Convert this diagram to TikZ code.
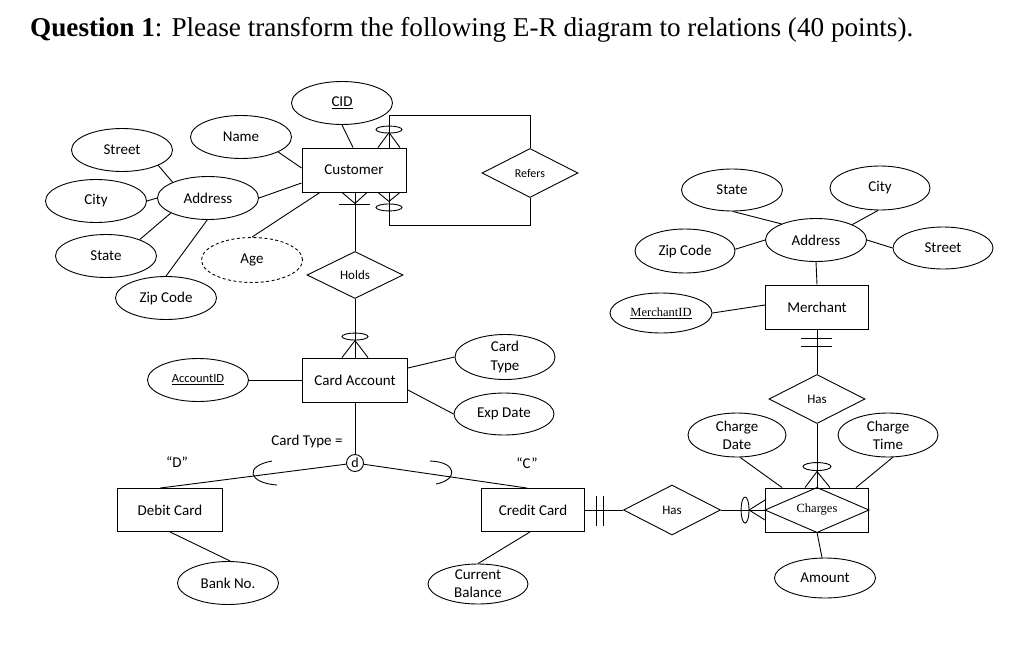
\documentclass[tikz,border=0pt]{standalone}
\usepackage{fontspec}
\setmainfont{Carlito}
\newfontfamily\tnr{Liberation Serif}
\usetikzlibrary{shapes.geometric,calc}
\tikzset{
 conn/.style={line width=0.9pt},
 attr/.style={ellipse, draw, line width=0.9pt, inner sep=0pt, minimum width=101pt, minimum height=43pt, font=\fontsize{15}{18}\selectfont, align=center},
 ent/.style={rectangle, draw, line width=0.9pt, inner sep=0pt, minimum width=104pt, minimum height=44pt, font=\fontsize{15}{18}\selectfont},
 rel/.style={diamond, draw, line width=0.9pt, inner sep=0pt, minimum width=96pt, minimum height=49pt, font=\fontsize{13}{15}\selectfont},
 lbl/.style={inner sep=0pt, font=\fontsize{15}{18}\selectfont},
 zero/.style={line width=0.9pt},
}
\begin{document}
\begin{tikzpicture}[x=1pt,y=-1pt]
\fill[white] (0,0) rectangle (1024,661);
\useasboundingbox (0,0) rectangle (1024,661);

\node[anchor=base west, inner sep=0pt, font=\tnr\fontsize{27.2}{31}\selectfont] (title) at (30,37) {\textbf{Question 1}: Please transform the following E-R diagram to relations (40 points).};

% left: customer side
\node[attr] (cid) at (342,103) {\underline{CID}};
\node[ent] (cust) at (354,170) {Customer};
\node[rel, font=\fontsize{12}{14}\selectfont] (refers) at (530,173) {Refers};
\node[attr] (name) at (241,137) {Name};
\node[attr] (lstreet) at (122,150) {Street};
\node[attr] (lcity) at (96,201) {City};
\node[attr] (laddr) at (208,198) {Address};
\node[attr] (lstate) at (106,256) {State};
\node[attr] (lzip) at (166,298) {Zip Code};
\node[attr, dash pattern=on 3pt off 2.5pt, minimum height=45pt] (age) at (252,260) {Age};
\node[rel, minimum height=47pt] (holds) at (355,275) {Holds};
\node[ent, minimum width=105pt] (card) at (355,380) {Card Account};
\node[attr, minimum width=100pt, font=\fontsize{15}{19}\selectfont] (ctype) at (505,357) {Card\\Type};
\node[attr, minimum width=100pt, minimum height=42pt] (exp) at (504,414) {Exp Date};
\node[attr, font=\fontsize{12.5}{15}\selectfont] (acc) at (198,380) {\underline{AccountID}};
\node[lbl] (ctl) at (307,441) {Card Type =};
\node[circle, draw, line width=0.9pt, inner sep=0pt, minimum size=17pt, font=\fontsize{14}{16}\selectfont] (dc) at (355,463) {d};
\node[lbl] (dq) at (177,462) {“D”};
\node[lbl] (cq) at (527,463) {“C”};
\node[ent, minimum width=105pt, minimum height=43pt] (debit) at (170,510) {Debit Card};
\node[ent, minimum width=103pt, minimum height=43pt] (credit) at (533,510) {Credit Card};
\node[attr] (bank) at (228,583) {Bank No.};
\node[attr, minimum width=100pt, minimum height=40pt] (bal) at (478,584) {Current\\Balance};

% right: merchant side
\node[rel, minimum width=97pt, minimum height=50pt] (has1) at (672,510) {Has};
\node[ent, minimum width=103pt] (charges) at (817,510) {};
\node[inner sep=0pt, font=\tnr\fontsize{12.5}{15}\selectfont] (chlbl) at (charges) {Charges};
\node[attr, minimum height=40pt] (amount) at (825,578) {Amount};
\node[rel] (has2) at (817,399) {Has};
\node[attr, minimum width=98pt, minimum height=44pt] (cdate) at (737,435) {Charge\\Date};
\node[attr, minimum width=100pt, minimum height=44pt] (ctime) at (888,435) {Charge\\Time};
\node[ent, minimum width=103pt] (merch) at (817,307) {Merchant};
\node[attr, minimum width=102pt, minimum height=40pt, font=\tnr\fontsize{12.5}{15}\selectfont] (mid) at (661,313) {\underline{MerchantID}};
\node[attr] (raddr) at (816,240) {Address};
\node[attr, minimum height=42pt] (rstate) at (732,190) {State};
\node[attr, minimum width=100pt, minimum height=44pt] (rcity) at (880,188) {City};
\node[attr, minimum width=100pt, minimum height=44pt] (rzip) at (685,251) {Zip Code};
\node[attr, minimum width=100pt, minimum height=42pt] (rstreet) at (943,248) {Street};

% customer attributes
\draw[conn] (cid.south) -- ([xshift=-1pt]cust.north);
\draw[conn] (name.-22) -- ([yshift=2pt]cust.west);
\draw[conn] (laddr.east) -- ([yshift=-13pt]cust.west);
\draw[conn] (age.north) -- ([xshift=-34pt]cust.south);
\draw[conn] (lstreet.-23) -- (laddr.156);
\draw[conn] (lcity.east) -- (laddr.west);
\draw[conn] (lstate.26) -- (laddr.202);
\draw[conn] (lzip.north) -- (laddr.-92);

% refers (recursive)
\coordinate (ct) at ([xshift=35pt]cust.north);
\coordinate (cb) at ([xshift=35pt]cust.south);
\draw[conn] (ct) -- ++(0,-32) -| (refers.north);
\draw[conn] (cb) -- ++(0,33) -| (refers.south);
\draw[conn] ([xshift=-11pt]ct) -- ([yshift=15pt]ct) -- ([xshift=11pt]ct);
\draw[zero] ([yshift=18pt]ct) ellipse [x radius=13pt, y radius=3.5pt];
\draw[conn] ([xshift=-11pt]cb) -- ([yshift=-9pt]cb) -- ([xshift=11pt]cb);
\draw[zero] ([yshift=-15pt]cb) ellipse [x radius=13pt, y radius=3.5pt];

% customer - holds
\coordinate (chd) at (holds.north |- cust.south);
\draw[conn] (chd) -- (holds.north);
\draw[conn] ([xshift=-13pt]chd) -- ([yshift=-11pt]chd) -- ([xshift=12pt]chd);
\draw[conn] ([xshift=-16pt,yshift=-12pt]chd) -- ([xshift=15pt,yshift=-12pt]chd);

% holds - card account
\coordinate (hc) at (card.north);
\draw[conn] (holds.south) -- (hc);
\draw[conn] ([xshift=-13pt]hc) -- ([yshift=17pt]hc) -- ([xshift=13pt]hc);
\draw[zero] ([yshift=21pt]hc) ellipse [x radius=13pt, y radius=3.5pt];

% card account attributes
\draw[conn] ([yshift=12pt]card.east) -- (ctype.west);
\draw[conn] ([yshift=-10pt]card.east) -- (exp.west);
\draw[conn] (acc.east) -- (card.west);

% specialization
\draw[conn] (card.south) -- (dc.north);
\draw[conn] (dc) -- ([xshift=-10pt]debit.north);
\draw[conn] (dc) -- ([xshift=-6pt]credit.north);
\draw[conn] (272,461) .. controls (244,466) and (248,483) .. (277,485);
\draw[conn] (430,461) .. controls (458,462) and (458,480) .. (436,484);
\draw[conn] (debit.south) -- (bank.84);
\draw[conn] ([xshift=-3pt]credit.south) -- (bal.north);

% credit card - has - charges
\draw[conn] (credit.east) -- (has1.west);
\draw[conn] ([xshift=11pt,yshift=14pt]credit.east) -- ([xshift=11pt,yshift=-16pt]credit.east);
\draw[conn] ([xshift=18pt,yshift=14pt]credit.east) -- ([xshift=18pt,yshift=-16pt]credit.east);
\draw[conn] (has1.east) -- (charges.west);
\draw[conn] ([yshift=10pt]charges.west) -- ([xshift=-16pt]charges.west) -- ([yshift=-10pt]charges.west);
\draw[zero] ([xshift=-20pt]charges.west) ellipse [x radius=4pt, y radius=13pt];
\draw[conn] (charges.west) -- (charges.north) -- (charges.east) -- (charges.south) -- cycle;
\draw[conn] (charges.south) -- ([xshift=-3pt]amount.north);

% has (merchant) - charges
\draw[conn] (has2.south) -- (charges.north);
\draw[conn] ([xshift=-12pt]charges.north) -- ([yshift=16pt]charges.north) -- ([xshift=13pt]charges.north);
\draw[zero] ([yshift=21pt]charges.north) ellipse [x radius=14pt, y radius=4pt];
\draw[conn] (cdate.-82) -- ([xshift=-35pt]charges.north);
\draw[conn] (ctime.-78) -- ([xshift=39pt]charges.north);

% merchant - has
\draw[conn] (merch.south) -- (has2.north);
\draw[conn] ([xshift=-16pt,yshift=-9pt]merch.south) -- ([xshift=15pt,yshift=-9pt]merch.south);
\draw[conn] ([xshift=-16pt,yshift=-17pt]merch.south) -- ([xshift=15pt,yshift=-17pt]merch.south);

% merchant attributes
\draw[conn] (mid.east) -- ([yshift=2pt]merch.west);
\draw[conn] (raddr.south) -- (merch.north);
\draw[conn] (rstate.-88) -- (raddr.155);
\draw[conn] (rcity.-95) -- (raddr.23);
\draw[conn] (rzip.2) -- (raddr.west);
\draw[conn] (rstreet.west) -- (raddr.east);
\end{tikzpicture}
\end{document}
